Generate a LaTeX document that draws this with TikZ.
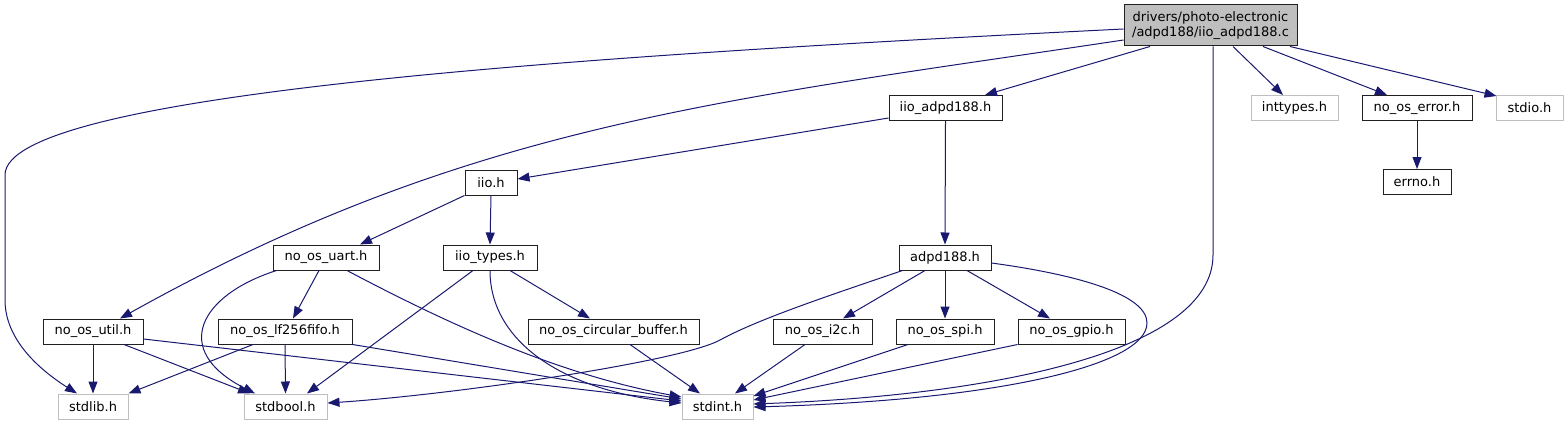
\documentclass[tikz,border=0pt]{standalone}
\usepackage{fontspec}
\setmainfont{DejaVu Sans}
\usetikzlibrary{arrows.meta}
\definecolor{edgeblue}{HTML}{191970}
\definecolor{lgray}{HTML}{BFBFBF}
\definecolor{boxline}{HTML}{202020}
\tikzset{
  file/.style={draw=boxline, line width=1pt, rectangle, inner sep=0pt, minimum height=25pt,
    font=\fontsize{13}{15}\selectfont, text=black},
  sysfile/.style={file, draw=lgray},
  rootfile/.style={file, fill=lgray, minimum height=41pt, align=center},
  dep/.style={draw=edgeblue, line width=1pt, -{Triangle[length=12pt,width=9pt]}},
}
\begin{document}
\begin{tikzpicture}[x=1pt,y=-1pt]
\useasboundingbox (0,0) rectangle (1568,425);
% nodes
\node[rootfile, minimum width=173pt] (root) at (1210.5,25.5) {drivers/photo-electronic\\/adpd188/iio\_adpd188.c};
\node[file, minimum width=113pt] (iioadpd) at (945.5,108) {iio\_adpd188.h};
\node[sysfile, minimum width=87pt] (inttypes) at (1294.5,108) {inttypes.h};
\node[file, minimum width=110pt] (noserr) at (1417,108) {no\_os\_error.h};
\node[sysfile, minimum width=67pt] (stdio) at (1529.5,108) {stdio.h};
\node[file, minimum width=68pt] (errno) at (1417,182) {errno.h};
\node[file, minimum width=52pt] (iio) at (491,182.5) {iio.h};
\node[file, minimum width=106pt] (uart) at (326,257.5) {no\_os\_uart.h};
\node[file, minimum width=94pt] (iiotypes) at (490,257.5) {iio\_types.h};
\node[file, minimum width=92pt] (adpd) at (945,257.5) {adpd188.h};
\node[file, minimum width=100pt] (util) at (93,331.5) {no\_os\_util.h};
\node[file, minimum width=134pt] (fifo) at (285,331.5) {no\_os\_lf256fifo.h};
\node[file, minimum width=171pt] (circ) at (613.5,331.5) {no\_os\_circular\_buffer.h};
\node[file, minimum width=99pt] (i2c) at (822.5,331.5) {no\_os\_i2c.h};
\node[file, minimum width=98pt] (spi) at (945,331.5) {no\_os\_spi.h};
\node[file, minimum width=107pt] (gpio) at (1071.5,331.5) {no\_os\_gpio.h};
\node[sysfile, minimum width=70pt] (stdlib) at (93,406.5) {stdlib.h};
\node[sysfile, minimum width=83pt] (stdbool) at (285.5,406.5) {stdbool.h};
\node[sysfile, minimum width=71pt] (stdint) at (717.5,406.5) {stdint.h};
% edges from root
\draw[dep] ([yshift=-3.5pt]root.west) .. controls (600,55) and (5,92) .. (5,175) -- (5,300)
  .. controls (5,340) and (40,370) .. ([xshift=-16pt]stdlib.north);
\draw[dep] ([yshift=-14.5pt]root.west) .. controls (724,100) and (470,123) .. ([xshift=27pt]util.north);
\draw[dep] ([xshift=-60.5pt]root.south) -- ([xshift=39.5pt]iioadpd.north);
\draw[dep] ([xshift=2.5pt]root.south) -- (1213,255) .. controls (1213,350) and (1000,395) .. ([yshift=2.5pt]stdint.east);
\draw[dep] ([xshift=22.5pt]root.south) -- ([xshift=-11.5pt]inttypes.north);
\draw[dep] ([xshift=52.5pt]root.south) -- ([xshift=-30pt]noserr.north);
\draw[dep] ([xshift=79.5pt]root.south) -- ([xshift=1pt,yshift=-1pt]stdio.north west);
% second level
\draw[dep] ([yshift=-10pt]iioadpd.west) -- ([yshift=3.5pt]iio.east);
\draw[dep] (iioadpd.south) -- (adpd.north);
\draw[dep] (noserr.south) -- (errno.north);
% iio.h
\draw[dep] (iio.south west) -- ([xshift=34pt]uart.north);
\draw[dep] (iio.south) -- (iiotypes.north);
% uart
\draw[dep] ([xshift=4pt]uart.south west) .. controls (200,295) and (170,350) .. ([xshift=-30.5pt]stdbool.north);
\draw[dep] ([xshift=-7pt]uart.south) -- ([xshift=8pt]fifo.north);
\draw[dep] ([xshift=21pt]uart.south) .. controls (450,325) and (560,375) .. ([yshift=9.5pt]stdint.west);
% iio_types
\draw[dep] ([xshift=-17pt]iiotypes.south) -- ([xshift=21.5pt]stdbool.north);
\draw[dep] (iiotypes.south) .. controls (490,340) and (560,390) .. ([yshift=3.5pt]stdint.west);
\draw[dep] ([xshift=20pt]iiotypes.south) -- ([xshift=-23.5pt]circ.north);
% util
\draw[dep] (util.south) -- (stdlib.north);
\draw[dep] ([xshift=31pt]util.south) -- ([xshift=-35.5pt]stdbool.north);
\draw[dep] ([yshift=-7.5pt]util.east) -- ([yshift=5.5pt]stdint.west);
% fifo
\draw[dep] ([xshift=-32pt]fifo.south) -- (stdlib.north east);
\draw[dep] (fifo.south) -- (stdbool.north);
\draw[dep] (fifo.south east) -- ([yshift=7.5pt]stdint.west);
% circ
\draw[dep] ([xshift=16.5pt]circ.south) -- ([xshift=-17.5pt]stdint.north);
% adpd188
\draw[dep] ([xshift=4pt]adpd.south west) .. controls (840,292) and (760,318) .. (720,340)
  .. controls (680,362) and (450,395) .. ([yshift=3.5pt]stdbool.east);
\draw[dep] ([xshift=-20pt]adpd.south) -- ([xshift=20.5pt]i2c.north);
\draw[dep] (adpd.south) -- (spi.north);
\draw[dep] ([xshift=22pt]adpd.south) -- ([xshift=-21.5pt]gpio.north);
\draw[dep] ([yshift=-5.5pt]adpd.east) .. controls (1080,275) and (1147,295) .. (1147,323)
  .. controls (1147,365) and (1000,400) .. ([yshift=-0.5pt]stdint.east);
% leaves
\draw[dep] ([xshift=-17.5pt]i2c.south) -- ([xshift=17.5pt]stdint.north);
\draw[dep] ([xshift=-37pt]spi.south) -- ([yshift=10.5pt]stdint.east);
\draw[dep] (gpio.south west) -- ([yshift=6.5pt]stdint.east);
\end{tikzpicture}
\end{document}
